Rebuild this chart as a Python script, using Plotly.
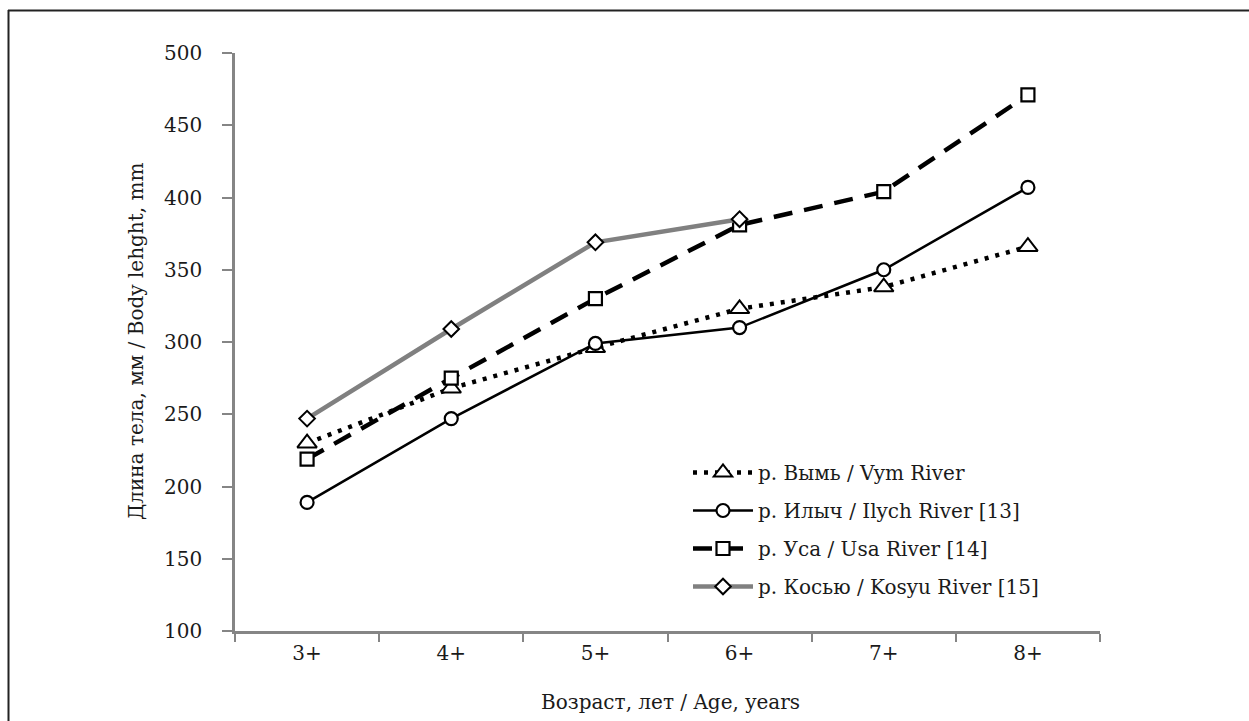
import plotly.graph_objects as go

ages = ["3+", "4+", "5+", "6+", "7+", "8+"]
vym = [230, 268, 296, 323, 338, 366]
ilych = [189, 247, 299, 310, 350, 407]
usa = [219, 275, 330, 381, 404, 471]
kosyu_ages = ["3+", "4+", "5+", "6+"]
kosyu = [247, 309, 369, 385]

names = ["р. Вымь / Vym River", "р. Илыч / Ilych River [13]",
         "р. Уса / Usa River [14]", "р. Косью / Kosyu River [15]"]

W, H = 1249, 721
L, R, T, B = 235, 149, 53, 90
PW, PH = W - L - R, H - T - B

def px2x(px):
    return (px - L) / PW

def px2y(py):
    return (H - B - py) / PH

FONT = "DejaVu Serif"
FS = 20
TXT = "#1a1a1a"

fig = go.Figure()
fig.add_trace(go.Scatter(
    x=ages, y=vym, name=names[0], mode="lines+markers",
    line=dict(color="black", width=4.5, dash="4px,7px"),
    marker=dict(symbol="triangle-up", size=17, color="white",
                line=dict(color="black", width=2)),
    legendgroup="a"))
fig.add_trace(go.Scatter(
    x=ages, y=ilych, name=names[1], mode="lines+markers",
    line=dict(color="black", width=2.5),
    marker=dict(symbol="circle", size=13, color="white",
                line=dict(color="black", width=2.2)),
    legendgroup="b"))
fig.add_trace(go.Scatter(
    x=ages, y=usa, name=names[2], mode="lines+markers",
    line=dict(color="black", width=4.5, dash="19px,12px"),
    marker=dict(symbol="square", size=13, color="white",
                line=dict(color="black", width=2.2)),
    legendgroup="c"))
fig.add_trace(go.Scatter(
    x=kosyu_ages, y=kosyu, name=names[3], mode="lines+markers",
    line=dict(color="#808080", width=4.5),
    marker=dict(symbol="diamond", size=12, color="white",
                line=dict(color="black", width=2)),
    legendgroup="d"))

axis_col = "#858585"
fig.update_xaxes(
    type="category", categoryorder="array", categoryarray=ages,
    range=[-0.5, 5.5], showline=True, linecolor=axis_col, linewidth=2.5,
    ticks="outside", tickson="boundaries", ticklen=8, tickwidth=2,
    tickcolor=axis_col, showgrid=False, zeroline=False,
    tickfont=dict(family=FONT, size=FS, color=TXT), ticklabelstandoff=2)
fig.update_yaxes(
    range=[100, 500], tickvals=[100, 150, 200, 250, 300, 350, 400, 450, 500],
    showline=True, linecolor=axis_col, linewidth=2.5,
    ticks="outside", ticklen=10, tickwidth=2, tickcolor=axis_col,
    showgrid=False, zeroline=False,
    tickfont=dict(family=FONT, size=FS, color=TXT), ticklabelstandoff=16)

fig.add_annotation(text="Возраст, лет / Age, years", xref="paper", yref="paper",
                   x=px2x(670), y=px2y(702), xanchor="center", yanchor="middle",
                   showarrow=False, font=dict(family=FONT, size=FS, color=TXT))
fig.add_annotation(text="Длина тела, мм / Body lehght, mm", xref="paper", yref="paper",
                   x=px2x(136), y=px2y(342), xanchor="center", yanchor="middle",
                   textangle=-90, showarrow=False,
                   font=dict(family=FONT, size=FS, color=TXT))

# outer frame (cropped: only top and left edges visible)
fig.add_shape(type="line", xref="paper", yref="paper",
              x0=px2x(8), x1=px2x(1260), y0=px2y(10.5), y1=px2y(10.5),
              line=dict(color="#222222", width=2))
fig.add_shape(type="line", xref="paper", yref="paper",
              x0=px2x(8.5), x1=px2x(8.5), y0=px2y(10), y1=px2y(730),
              line=dict(color="#222222", width=2))

fig.update_layout(
    width=W, height=H, autosize=False,
    margin=dict(l=L, r=R, t=T, b=B),
    paper_bgcolor="white", plot_bgcolor="white",
    showlegend=True,
    legend=dict(x=px2x(688), y=px2y(453), xanchor="left", yanchor="top",
                font=dict(family=FONT, size=FS, color=TXT),
                bgcolor="rgba(0,0,0,0)", itemwidth=60, tracegroupgap=9,
                traceorder="grouped"),
)

fig.write_html("out.html")
